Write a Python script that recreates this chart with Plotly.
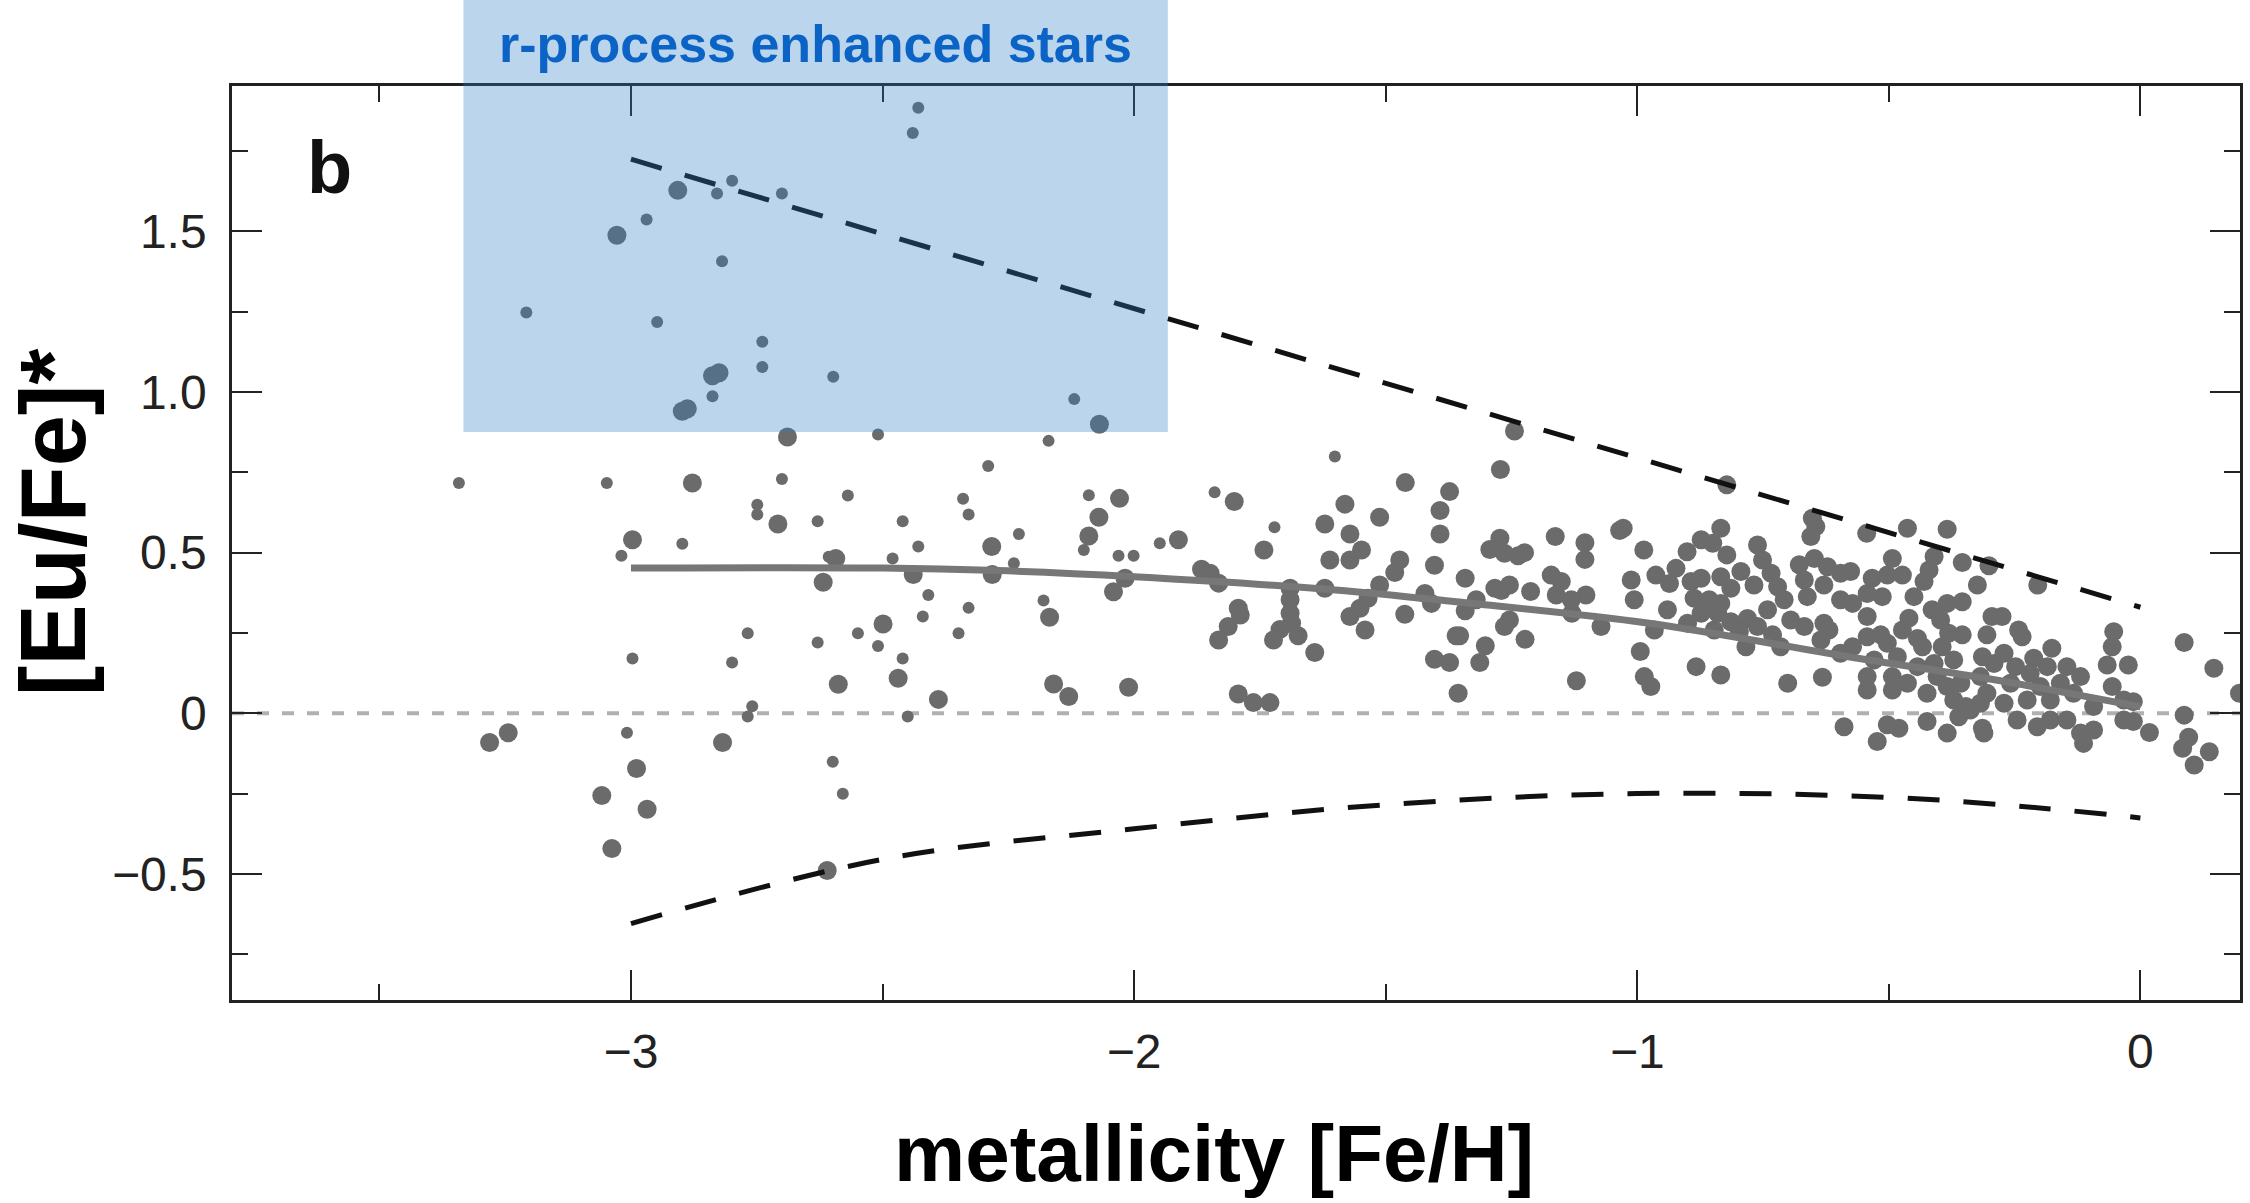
import plotly.graph_objects as go

# ---------------- data ----------------
# small symbols: [Fe/H], [Eu/Fe]*
small_feh = [-2.429, -2.440, -2.799, -2.829, -2.700, -2.969, -2.819, -3.208, -2.948, -2.739,
             -2.739, -2.598, -2.838, -2.509, -3.342, -3.048, -2.700, -2.290, -2.749, -2.749,
             -2.629, -2.569, -2.340, -2.329, -2.460, -2.898, -3.019, -2.429, -2.607, -2.480,
             -2.409, -2.420, -2.329, -2.768, -2.629, -2.549, -2.509, -2.349, -2.997, -2.799,
             -2.460, -2.759, -2.768, -2.450, -3.008, -2.599, -2.579,
             -2.119, -2.170, -1.601, -2.090, -1.840, -1.721, -2.229, -1.949, -2.100,
             -2.031, -2.001, -2.239, -2.180]
small_eufe = [1.885, 1.807, 1.658, 1.618, 1.618, 1.537, 1.407, 1.248, 1.218, 1.157,
              1.078, 1.048, 0.987, 0.868, 0.717, 0.717, 0.729, 0.770, 0.649, 0.619,
              0.598, 0.678, 0.668, 0.619, 0.598, 0.528, 0.490, 0.519, 0.487, 0.482,
              0.368, 0.301, 0.328, 0.249, 0.220, 0.249, 0.209, 0.249, 0.170, 0.158,
              0.170, 0.022, -0.010, -0.010, -0.061, -0.151, -0.251,
              0.978, 0.848, 0.799, 0.679, 0.688, 0.579, 0.558, 0.529, 0.508,
              0.490, 0.490, 0.467, 0.351]

# large symbols: [Fe/H], [Eu/Fe]*
large_feh = [-2.907, -3.028, -2.838, -2.825, -2.898, -2.888, -2.689, -2.878, -2.708, -2.997,
             -2.283, -2.593, -2.618, -2.439, -2.282, -2.499, -2.588, -2.469, -2.389, -3.281,
             -3.244, -2.818, -2.989, -3.058, -2.968, -3.038, -2.610,
             -2.069, -1.461, -1.373, -2.029, -1.801, -1.581, -1.392, -2.070, -1.621, -1.512,
             -2.090, -1.571, -1.392, -1.912, -1.742, -1.548, -1.611, -1.571, -1.472, -1.403,
             -1.482, -1.866, -1.849, -2.018, -1.832, -1.690, -1.621, -1.512, -1.422, -1.409,
             -2.041, -1.535, -1.690, -1.793, -1.551, -1.690, -2.168, -1.789, -1.571, -1.462,
             -1.687, -1.813, -1.710, -1.541, -1.674, -1.832, -1.723, -1.360, -1.641, -1.403,
             -1.373, -2.160, -2.130, -2.011, -1.793, -1.763, -1.730, -1.356,
             -1.244, -1.272, -1.163, -1.104, -1.104, -1.035, -1.028, -1.273, -1.293, -1.264,
             -1.224, -1.237, -0.987, -1.342, -1.171, -1.151, -1.283, -1.254, -1.270, -1.212,
             -1.161, -1.102, -1.012, -1.006, -1.320, -1.342, -1.131, -1.130, -1.254, -1.264,
             -1.072, -1.353, -1.223, -1.302, -1.313, -0.994, -0.986, -1.121,
             -0.822, -0.652, -0.645, -0.655, -0.834, -0.873, -0.850, -0.901, -0.822, -0.761,
             -0.923, -0.963, -0.936, -0.893, -0.873, -0.834, -0.794, -0.814, -0.751, -0.734,
             -0.768, -0.721, -0.678, -0.648, -0.622, -0.668, -0.629, -0.596, -0.662, -0.596,
             -0.887, -0.857, -0.834, -0.940, -0.873, -0.840, -0.741, -0.708, -0.900, -0.814,
             -0.781, -0.761, -0.966, -0.695, -0.668, -0.629, -0.619, -0.797, -0.847, -0.784,
             -0.731, -0.715, -0.635, -0.596, -0.883, -0.834, -0.701, -0.632, -0.973, -0.589,
             -0.544, -0.463, -0.384, -0.493, -0.354, -0.301, -0.410, -0.420, -0.576, -0.533,
             -0.503, -0.473, -0.430, -0.324, -0.543, -0.513, -0.450, -0.572, -0.384, -0.354,
             -0.414, -0.543, -0.460, -0.295, -0.473, -0.397, -0.381, -0.354, -0.305, -0.543,
             -0.516, -0.443, -0.572, -0.503, -0.433, -0.394, -0.529, -0.483, -0.443, -0.410,
             -0.371, -0.314, -0.291, -0.543, -0.493, -0.463, -0.404, -0.384, -0.357, -0.318,
             -0.543, -0.493, -0.424, -0.371, -0.347, -0.305, -0.318, -0.503, -0.480, -0.523,
             -0.424, -0.384, -0.361, -0.314, -0.311, -0.338,
             -0.204, -0.275, -0.242, -0.235, -0.053, -0.056, -0.066, -0.056, -0.176, -0.212,
             -0.271, -0.248, -0.219, -0.185, -0.146, -0.119, -0.258, -0.199, -0.159, -0.271,
             -0.225, -0.179, -0.133, -0.093, -0.245, -0.205, -0.179, -0.146, -0.119, -0.093,
             -0.113, -0.033, -0.033,
             0.087, 0.146, 0.197, 0.087, 0.096, 0.084, 0.137, 0.107, 0.018, -0.014,
             -0.014, -0.024]
large_eufe = [1.628, 1.488, 1.051, 1.060, 0.940, 0.948, 0.860, 0.717, 0.589, 0.540,
              0.519, 0.482, 0.408, 0.432, 0.432, 0.278, 0.090, 0.109, 0.043, -0.091,
              -0.061, -0.091, -0.172, -0.256, -0.299, -0.421, -0.490,
              0.900, 0.718, 0.690, 0.669, 0.659, 0.651, 0.631, 0.610, 0.589, 0.610,
              0.552, 0.558, 0.558, 0.540, 0.508, 0.508, 0.477, 0.477, 0.477, 0.461,
              0.438, 0.448, 0.436, 0.420, 0.405, 0.389, 0.389, 0.399, 0.373, 0.342,
              0.378, 0.358, 0.353, 0.327, 0.327, 0.311, 0.299, 0.306, 0.301, 0.308,
              0.280, 0.270, 0.261, 0.259, 0.241, 0.228, 0.228, 0.241, 0.189, 0.168,
              0.158, 0.091, 0.052, 0.081, 0.060, 0.033, 0.033, 0.062,
              0.879, 0.759, 0.550, 0.531, 0.479, 0.569, 0.576, 0.545, 0.510, 0.498,
              0.500, 0.490, 0.508, 0.420, 0.430, 0.410, 0.389, 0.399, 0.382, 0.379,
              0.368, 0.368, 0.415, 0.353, 0.353, 0.319, 0.353, 0.311, 0.290, 0.270,
              0.270, 0.241, 0.230, 0.210, 0.158, 0.192, 0.114, 0.101,
              0.711, 0.607, 0.581, 0.550, 0.576, 0.540, 0.529, 0.503, 0.493, 0.524,
              0.451, 0.430, 0.404, 0.410, 0.420, 0.425, 0.441, 0.389, 0.477, 0.436,
              0.399, 0.394, 0.462, 0.482, 0.456, 0.415, 0.399, 0.436, 0.363, 0.353,
              0.358, 0.353, 0.342, 0.322, 0.311, 0.311, 0.322, 0.353, 0.280, 0.285,
              0.295, 0.270, 0.259, 0.290, 0.270, 0.280, 0.259, 0.254, 0.259, 0.207,
              0.244, 0.207, 0.228, 0.187, 0.145, 0.119, 0.093, 0.112, 0.083, -0.042,
              0.560, 0.576, 0.573, 0.482, 0.469, 0.459, 0.488, 0.446, 0.441, 0.420,
              0.430, 0.430, 0.410, 0.399, 0.373, 0.363, 0.363, 0.342, 0.342, 0.347,
              0.322, 0.301, 0.296, 0.301, 0.259, 0.290, 0.249, 0.244, 0.244, 0.238,
              0.244, 0.233, 0.207, 0.218, 0.207, 0.207, 0.166, 0.176, 0.145, 0.155,
              0.166, 0.176, 0.155, 0.114, 0.114, 0.093, 0.114, 0.083, 0.093, 0.114,
              0.072, 0.072, 0.062, 0.041, 0.021, 0.062, 0.031, -0.036, -0.047, -0.088,
              -0.026, -0.062, -0.011, -0.047, -0.062, 0.010,
              0.399, 0.301, 0.259, 0.238, 0.254, 0.207, 0.150, 0.083, 0.202, 0.171,
              0.187, 0.145, 0.124, 0.145, 0.145, 0.114, 0.093, 0.083, 0.093, 0.031,
              0.041, 0.041, 0.062, 0.021, -0.021, -0.042, -0.021, -0.021, -0.062, -0.052,
              -0.094, -0.021, 0.041,
              0.220, 0.140, 0.062, -0.006, -0.075, -0.109, -0.120, -0.161, -0.060, 0.036,
              -0.026, 0.150]

# mean trend (solid gray line)
trend_feh = [-3.0, -2.5, -2.27, -2.0, -1.6, -1.36, -0.98, -0.58, -0.29, 0.0]
trend_eufe = [0.452, 0.452, 0.444, 0.425, 0.384, 0.347, 0.281, 0.176, 0.104, 0.02]

# upper envelope (dashed)
upper_feh = [-3.0, 0.0]
upper_eufe = [1.725, 0.33]

# lower envelope (dashed)
lower_feh = [-3.0, -2.5, -2.0, -1.5, -1.0, -0.5, -0.2, 0.0]
lower_eufe = [-0.655, -0.455, -0.36, -0.285, -0.25, -0.262, -0.295, -0.326]

# r-process enhanced region
rbox_feh = [-3.333, -1.933]
rbox_eufe_min = 0.876

x_range = [-3.793, 0.198]
y_range = [-0.893, 1.953]
y_tickvals = [-0.5, 0, 0.5, 1.0, 1.5]
y_ticktext = ["\u22120.5", "0", "0.5", "1.0", "1.5"]
y_minorvals = [-0.75, -0.25, 0.25, 0.75, 1.25, 1.75]

# ---------------- figure ----------------
GRAY = "#6b6b6b"
fig = go.Figure()

fig.add_trace(go.Scatter(x=small_feh, y=small_eufe, mode="markers",
                         marker=dict(size=12, color=GRAY, line=dict(width=0)),
                         showlegend=False, hoverinfo="skip"))
fig.add_trace(go.Scatter(x=large_feh, y=large_eufe, mode="markers",
                         marker=dict(size=19, color=GRAY, line=dict(width=0)),
                         showlegend=False, hoverinfo="skip"))
fig.add_trace(go.Scatter(x=trend_feh, y=trend_eufe, mode="lines",
                         line=dict(color="#777777", width=7, shape="spline"),
                         showlegend=False, hoverinfo="skip"))
fig.add_trace(go.Scatter(x=upper_feh, y=upper_eufe, mode="lines",
                         line=dict(color="#111111", width=5, dash="32px,24px"),
                         showlegend=False, hoverinfo="skip"))
fig.add_trace(go.Scatter(x=lower_feh, y=lower_eufe, mode="lines",
                         line=dict(color="#111111", width=5, dash="32px,24px", shape="spline"),
                         showlegend=False, hoverinfo="skip"))

shapes = [
    dict(type="line", xref="paper", x0=0, x1=1, yref="y", y0=0, y1=0,
         line=dict(color="#b0b0b0", width=4, dash="12px,13px"), layer="below"),
    dict(type="rect", xref="x", x0=rbox_feh[0], x1=rbox_feh[1], yref="y",
         y0=rbox_eufe_min, y1=y_range[1], fillcolor="rgb(41,124,196)", opacity=0.32,
         line=dict(width=0), layer="above"),
    dict(type="rect", xref="x", x0=rbox_feh[0], x1=rbox_feh[1], yref="paper",
         y0=1, y1=1.2, fillcolor="rgb(41,124,196)", opacity=0.32,
         line=dict(width=0), layer="above"),
]

annotations = [
    dict(text="<b>r-process enhanced stars</b>", xref="x", x=sum(rbox_feh) / 2,
         yref="paper", y=1.046, showarrow=False, xanchor="center", yanchor="middle",
         font=dict(family="Liberation Sans, Arial", size=52, color="#0b63c5")),
    dict(text="<b>b</b>", xref="x", x=-3.60, yref="y", y=1.70, showarrow=False,
         xanchor="center", yanchor="middle",
         font=dict(family="Liberation Sans, Arial", size=74, color="#111111")),
    dict(text="<b>metallicity [Fe/H]</b>", xref="paper", x=0.4888, yref="paper", y=-0.168,
         showarrow=False, xanchor="center", yanchor="middle",
         font=dict(family="Liberation Sans, Arial", size=80, color="#000000")),
    dict(text="<b>[Eu/Fe]*</b>", xref="paper", x=-0.089, yref="paper", y=0.523,
         showarrow=False, xanchor="center", yanchor="middle", textangle=-90,
         font=dict(family="Liberation Sans, Arial", size=92, color="#000000")),
]

axis_common = dict(showgrid=False, zeroline=False, showline=True, linewidth=2.5,
                   linecolor="#222222", mirror="allticks", ticks="inside", ticklen=30,
                   tickwidth=2, tickcolor="#222222",
                   tickfont=dict(family="Liberation Sans, Arial", size=48, color="#222222"))

fig.update_xaxes(range=x_range, tickmode="linear", tick0=0, dtick=1,
                 ticklabelstandoff=8,
                 minor=dict(ticks="inside", ticklen=16, tickwidth=2, tickcolor="#222222",
                            dtick=0.5, tick0=0, showgrid=False),
                 **axis_common)
fig.update_yaxes(range=y_range, tickmode="array", tickvals=y_tickvals, ticktext=y_ticktext,
                 ticklabelstandoff=13,
                 minor=dict(ticks="inside", ticklen=16, tickwidth=2, tickcolor="#222222",
                            tickmode="array", tickvals=y_minorvals, showgrid=False),
                 **axis_common)

fig.update_layout(width=2250, height=1203,
                  margin=dict(l=232, r=7, t=86, b=203, pad=0),
                  paper_bgcolor="white", plot_bgcolor="white",
                  shapes=shapes, annotations=annotations, showlegend=False)

fig.write_html("out.html", config={"displayModeBar": False})
